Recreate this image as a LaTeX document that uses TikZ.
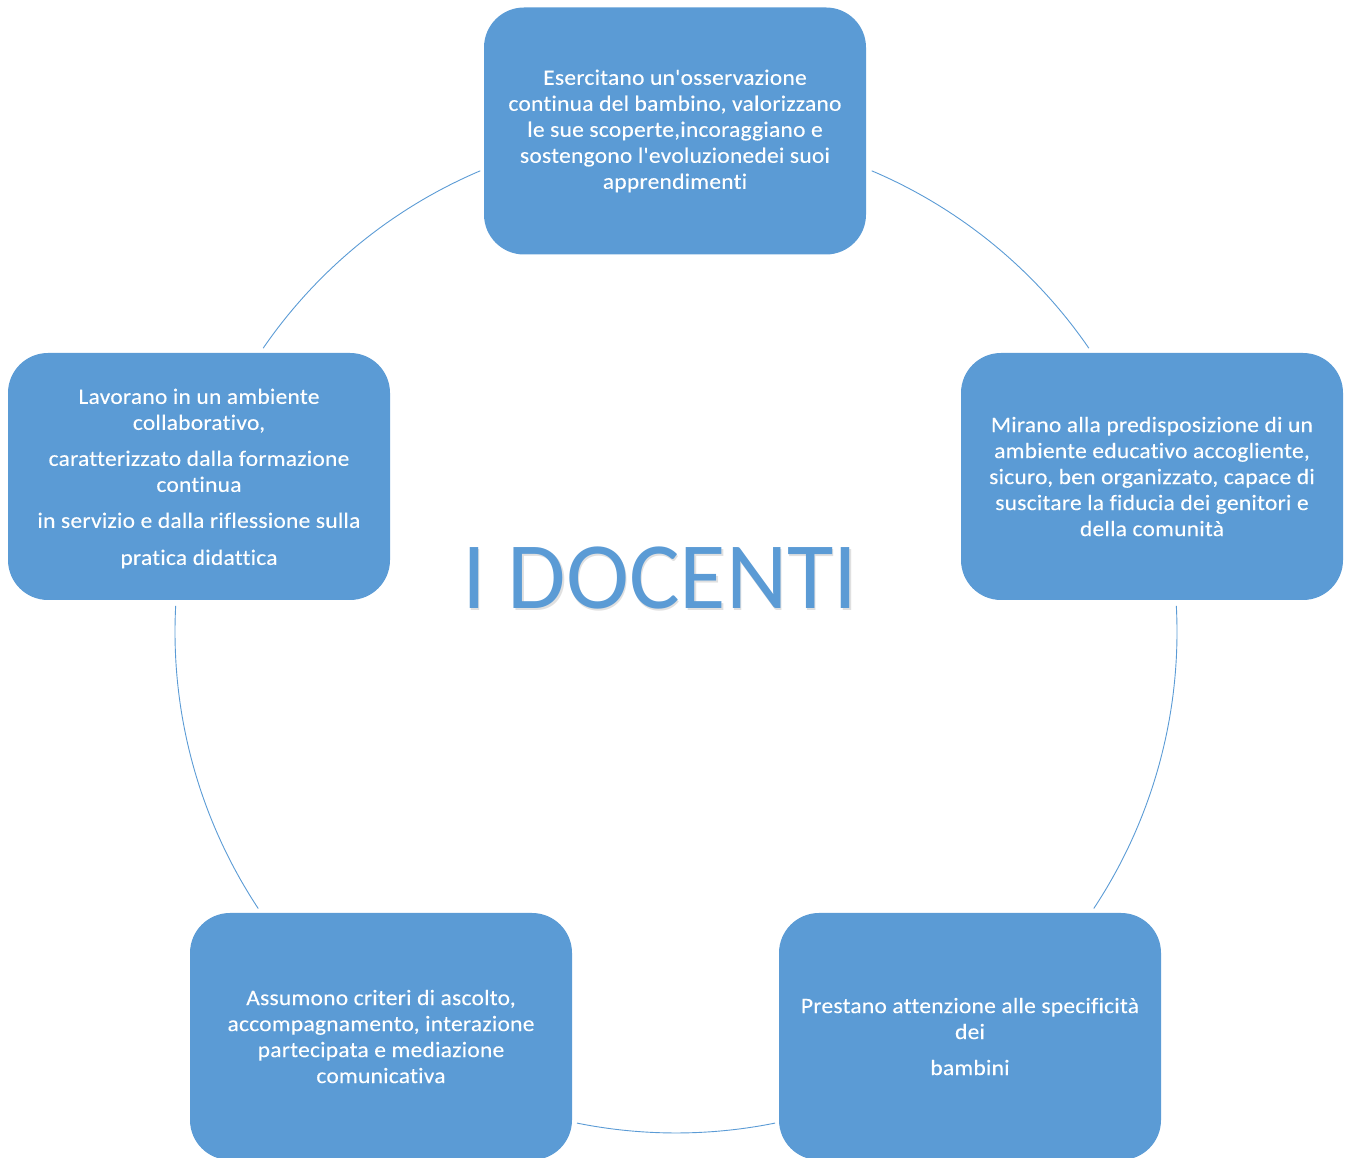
\documentclass[tikz,border=0pt]{standalone}
\usepackage{fontspec}
\setmainfont{Carlito}
\newfontfamily\boxfont{Carlito}[Ligatures={TeXOff,CommonOff}, LetterSpace=1, FakeStretch=1.07, FakeBold=0.12]
\definecolor{boxblue}{HTML}{5B9BD5}
\begin{document}
\begin{tikzpicture}[x=1pt,y=1pt,
  card/.style={rectangle, rounded corners=40pt, fill=boxblue, draw=none,
    minimum width=382pt, minimum height=247pt, text=white, align=center,
    font=\boxfont\fontsize{22}{26}\selectfont, inner sep=0pt},
  ring/.style={draw=boxblue, line width=0.9pt}]
\useasboundingbox (0,0) rectangle (1352,1157);
\coordinate (c) at (676,525);
% ring arcs
\draw[ring] ([shift={(113:501)}]c) arc[start angle=113, end angle=145.5, radius=501];
\draw[ring] ([shift={(67:501)}]c) arc[start angle=67, end angle=34.5, radius=501];
\draw[ring] ([shift={(3:501)}]c) arc[start angle=3, end angle=-33.5, radius=501];
\draw[ring] ([shift={(-78.6:501)}]c) arc[start angle=-78.6, end angle=-101.4, radius=501];
\draw[ring] ([shift={(213.5:501)}]c) arc[start angle=213.5, end angle=177, radius=501];
% boxes
\node[card] (top) at (675,1026) {Esercitano un'osservazione\\continua del bambino, valorizzano\\le sue scoperte,incoraggiano e\\sostengono l'evoluzionedei suoi\\apprendimenti};
\node[card] (right) at (1152,680.5) {Mirano alla predisposizione di un\\ambiente educativo accogliente,\\sicuro, ben organizzato, capace di\\suscitare la fiducia dei genitori e\\della comunità};
\node[card] (left) at (199,680.5) {};
\node[align=center, text=white, font=\boxfont\fontsize{22}{26}\selectfont, inner sep=0pt] (lefttext) at (199,678.5) {Lavorano in un ambiente\\collaborativo,\\[10pt]caratterizzato dalla formazione\\continua\\[10pt]in servizio e dalla riflessione sulla\\[11pt]pratica didattica};
\node[card] (bl) at (381,120.5) {Assumono criteri di ascolto,\\accompagnamento, interazione\\partecipata e mediazione\\comunicativa};
\node[card] (br) at (970,120.5) {Prestano attenzione alle specificità\\dei\\[10pt]bambini};
% title
\node[anchor=base, text=black!12, font=\fontsize{95}{110}\selectfont] (titleshadow) at (661.5,546) {I DOCENTI};
\node[anchor=base, text=boxblue, font=\fontsize{95}{110}\selectfont] (title) at (660,548) {I DOCENTI};
\end{tikzpicture}
\end{document}
